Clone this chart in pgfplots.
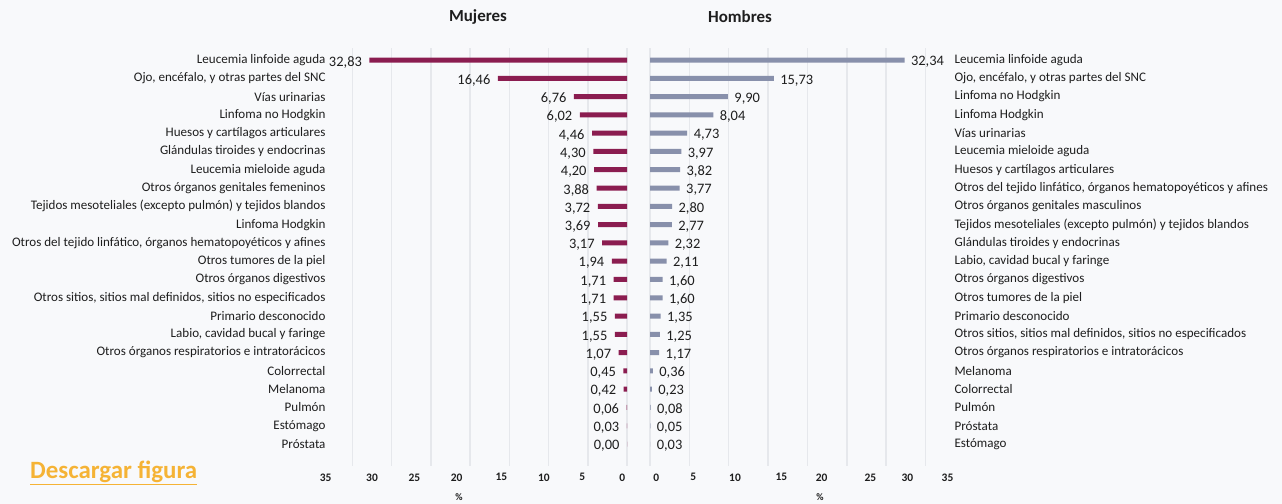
\documentclass[border=0pt]{standalone}
\usepackage{pgfplots}
\pgfplotsset{compat=1.18}
\usepackage{fontspec}
\setmainfont{Carlito}
\definecolor{bg}{HTML}{F8F9FB}
\definecolor{fem}{HTML}{8B1D50}
\definecolor{masc}{HTML}{8890AB}
\definecolor{gridc}{HTML}{E6E8EC}
\definecolor{txt}{HTML}{1E1E1E}
\definecolor{dl}{HTML}{F5B335}
\pgfplotsset{
  common/.style={
    scale only axis, xbar, y dir=reverse,
    ymin=-0.656, ymax=22.2, height=418bp,
    ytick={0,...,21}, major tick length=0,
    axis line style={draw=none},
    xtick={0,5,...,35}, xticklabels={},
    xmajorgrids, grid style={draw=gridc, line width=1.5bp},
    bar width=5bp, clip=false,
    y tick label style={font=\fontsize{13.1}{14}\selectfont, text=txt},
    x tick label style={font=\bfseries\fontsize{11.5}{12}\selectfont, text=txt, yshift=-4bp},
    extra x tick style={grid=none},
    every node near coord/.append style={font=\fontsize{14.5}{15}\selectfont, text=txt},
    nodes near coords={\pgfmathprintnumber[fixed,fixed zerofill,precision=2,use comma,assume math mode=true]{\pgfplotspointmeta}},
  }
}
\begin{document}
\begin{tikzpicture}
\fill[bg] (0,0) rectangle (1282bp,-504bp);
% Mujeres
\begin{axis}[common,
  at={(627bp,-48bp)}, anchor=north east,
  width=306bp, xmin=0, xmax=39, x dir=reverse,
  extra x ticks={0.6,5.7,10.6,16.0,21.7,27.1,32.5,38.4},
  extra x tick labels={0,5,10,15,20,25,30,35},
  y tick label style={anchor=east, xshift=8bp},
  yticklabels={Leucemia linfoide aguda,
    {Ojo, encéfalo, y otras partes del SNC},
    Vías urinarias,
    Linfoma no Hodgkin,
    Huesos y cartílagos articulares,
    Glándulas tiroides y endocrinas,
    Leucemia mieloide aguda,
    Otros órganos genitales femeninos,
    Tejidos mesoteliales (excepto pulmón) y tejidos blandos,
    Linfoma Hodgkin,
    {Otros del tejido linfático, órganos hematopoyéticos y afines},
    Otros tumores de la piel,
    Otros órganos digestivos,
    {Otros sitios, sitios mal definidos, sitios no especificados},
    Primario desconocido,
    {Labio, cavidad bucal y faringe},
    Otros órganos respiratorios e intratorácicos,
    Colorrectal,
    Melanoma,
    Pulmón,
    Estómago,
    Próstata},
  every node near coord/.append style={anchor=east, xshift=-4bp, yshift=-2bp},
]
\addplot[fill=fem, draw=none] coordinates {
(32.83,0) (16.46,1) (6.76,2) (6.02,3) (4.46,4) (4.30,5) (4.20,6) (3.88,7)
(3.72,8) (3.69,9) (3.17,10) (1.94,11) (1.71,12) (1.71,13) (1.55,14) (1.55,15)
(1.07,16) (0.45,17) (0.42,18) (0.06,19) (0.03,20) (0.00,21)};
\end{axis}
% Hombres
\begin{axis}[common,
  at={(650bp,-48bp)}, anchor=north west,
  width=303bp, xmin=0, xmax=38.5,
  extra x ticks={0.8,5.5,10.8,16.7,21.8,28.0,32.7,37.8},
  extra x tick labels={0,5,10,15,20,25,30,35},
  yticklabel pos=right,
  y tick label style={anchor=west, xshift=-2bp},
  yticklabels={Leucemia linfoide aguda,
    {Ojo, encéfalo, y otras partes del SNC},
    Linfoma no Hodgkin,
    Linfoma Hodgkin,
    Vías urinarias,
    Leucemia mieloide aguda,
    Huesos y cartílagos articulares,
    {Otros del tejido linfático, órganos hematopoyéticos y afines},
    Otros órganos genitales masculinos,
    Tejidos mesoteliales (excepto pulmón) y tejidos blandos,
    Glándulas tiroides y endocrinas,
    {Labio, cavidad bucal y faringe},
    Otros órganos digestivos,
    Otros tumores de la piel,
    Primario desconocido,
    {Otros sitios, sitios mal definidos, sitios no especificados},
    Otros órganos respiratorios e intratorácicos,
    Melanoma,
    Colorrectal,
    Pulmón,
    Próstata,
    Estómago},
  every node near coord/.append style={anchor=west, xshift=3bp, yshift=-2bp},
]
\addplot[fill=masc, draw=none] coordinates {
(32.34,0) (15.73,1) (9.90,2) (8.04,3) (4.73,4) (3.97,5) (3.82,6) (3.77,7)
(2.80,8) (2.77,9) (2.32,10) (2.11,11) (1.60,12) (1.60,13) (1.35,14) (1.25,15)
(1.17,16) (0.36,17) (0.23,18) (0.08,19) (0.05,20) (0.03,21)};
\end{axis}
\node[font=\bfseries\fontsize{17}{18}\selectfont, text=txt] at (478bp,-17bp) {Mujeres};
\node[font=\bfseries\fontsize{17}{18}\selectfont, text=txt] at (740bp,-17bp) {Hombres};
\node[font=\bfseries\fontsize{10}{11}\selectfont, text=txt] at (459bp,-497bp) {\%};
\node[font=\bfseries\fontsize{10}{11}\selectfont, text=txt] at (820bp,-497bp) {\%};
\node[anchor=west, font=\bfseries\fontsize{25}{26}\selectfont, text=dl, inner sep=0pt] at (30bp,-473bp) {\underline{Descargar figura}};
\end{tikzpicture}
\end{document}
